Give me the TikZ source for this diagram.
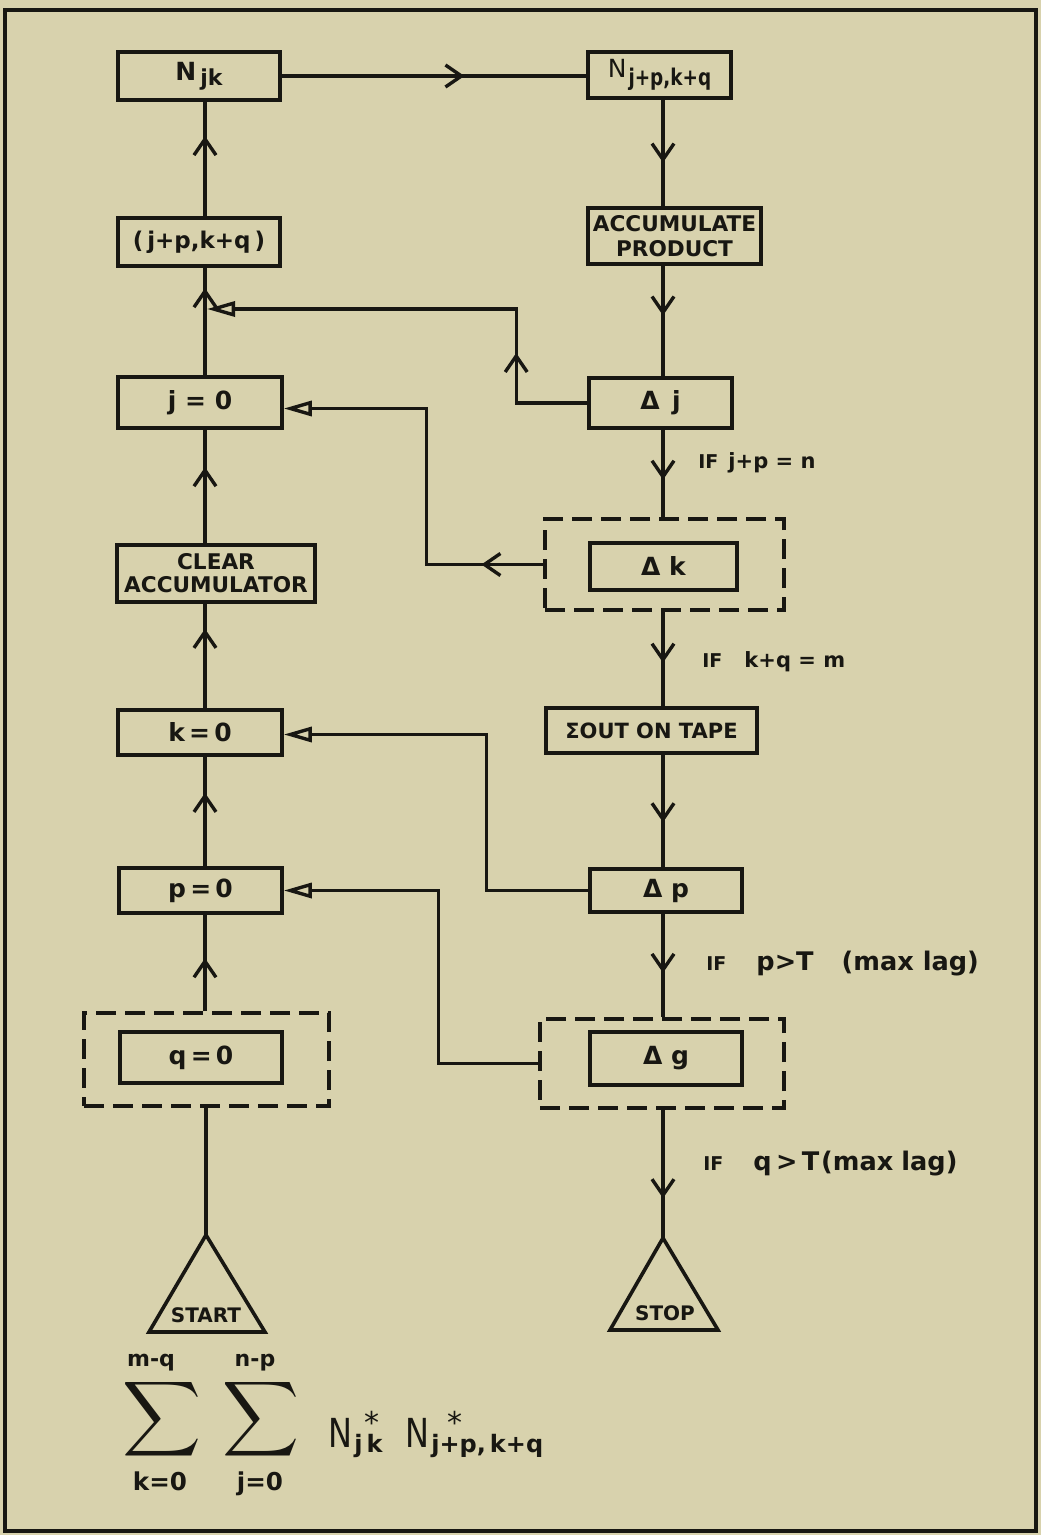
\documentclass[tikz,border=0pt]{standalone}
\usepackage{fontspec}
\usepackage{graphicx}
\setmainfont{DejaVu Sans}
\usetikzlibrary{arrows.meta,decorations.markings,calc}
\definecolor{bg}{RGB}{216,210,173}
\definecolor{ink}{RGB}{24,23,18}
\newcommand\FS[1]{\fontsize{#1}{#1}\selectfont}
\begin{document}
\begin{tikzpicture}[x=0.5pt,y=-0.5pt,color=ink,
  box/.style={draw=ink, line width=1.8pt, inner sep=0pt, text=ink},
  dbox/.style={draw=ink, line width=1.6pt, dash pattern=on 10pt off 4.5pt, inner sep=0pt},
  conn/.style={draw=ink, line width=1.7pt},
  midarr/.style={postaction={decorate}, decoration={markings, mark=at position #1 with {\arrow[line width=1.7pt]{Straight Barb[length=8pt,width=11pt]}}}},
  ret/.style={conn, -{Triangle[open,length=14pt,width=7.5pt]}},
  lbl/.style={inner sep=0pt, text=ink}
]
% background and frame
\fill[bg] (0,0) rectangle (1041,1535);
\draw[ink, line width=2.2pt] (5,10) rectangle (1036,1531);

\coordinate (L) at (205,0);
\coordinate (R) at (663,0);

% left column
\node[box, minimum width=81pt, minimum height=24pt] (Njk) at (199,76) {\bfseries\FS{12.5}N\kern2pt\raisebox{-2.5pt}{\FS{11}jk}\hspace{17pt}};
\node[box, minimum width=81pt, minimum height=24pt] (JP) at (199,242) {\bfseries\FS{11.5}(\,j+p,k+q\,)};
\node[box, minimum width=82pt, minimum height=25.5pt] (J0) at (200,402.5) {\bfseries\FS{12.5}j = 0};
\node[box, minimum width=99pt, minimum height=28.5pt, align=center, font=\bfseries\fontsize{10.8}{11.5}\selectfont] (CLR) at (216,573.5) {CLEAR\\ACCUMULATOR};
\node[box, minimum width=82pt, minimum height=22.5pt] (K0) at (200,732.5) {\bfseries\FS{12.5}k\,=\,0};
\node[box, minimum width=81.5pt, minimum height=22.5pt] (P0) at (200.5,890.5) {\bfseries\FS{12.5}p\,=\,0};
\node[dbox, minimum width=122.5pt, minimum height=46.5pt] (Q0o) at (206.5,1059.5) {};
\node[box, minimum width=81pt, minimum height=25.5pt] (Q0) at (201,1057.5) {\bfseries\FS{12.5}q\,=\,0};

% start triangle
\coordinate (SA) at (206,1235);
\draw[ink, line width=1.8pt, line join=miter] (SA) -- (149,1332) -- (265,1332) -- cycle;
\node[lbl, anchor=base] (st) at (206,1322) {\bfseries\FS{10}START};

% right column
\node[box, minimum width=71.5pt, minimum height=23pt] (NJ) at (659.5,75) {\FS{12.5}N\kern1pt\raisebox{-4pt}{\bfseries\FS{11.5}\scalebox{0.8}[1]{j+p,k+q}}};
\node[box, minimum width=86.5pt, minimum height=28pt, align=center, font=\bfseries\fontsize{10.8}{12.5}\selectfont] (ACC) at (674.5,236) {ACCUMULATE\\PRODUCT};
\node[box, minimum width=71.5pt, minimum height=25pt] (DJ) at (660.5,403) {\bfseries\FS{12.5}Δ\enspace j};
\node[dbox, minimum width=119.5pt, minimum height=45.5pt] (DKo) at (664.5,564.5) {};
\node[box, minimum width=73.5pt, minimum height=23.5pt] (DK) at (663.5,566.5) {\bfseries\FS{12.5}Δ k};
\node[box, minimum width=105.5pt, minimum height=22.5pt] (SO) at (651.5,730.5) {\bfseries\FS{10.5}ΣOUT ON TAPE};
\node[box, minimum width=76pt, minimum height=21.5pt] (DP) at (666,890.5) {\bfseries\FS{12.5}Δ p};
\node[dbox, minimum width=122pt, minimum height=44.5pt] (DGo) at (662,1063.5) {};
\node[box, minimum width=76pt, minimum height=26.5pt] (DG) at (666,1058.5) {\bfseries\FS{12.5}Δ g};

% stop triangle
\coordinate (TA) at (663,1238);
\draw[ink, line width=1.8pt, line join=miter] (TA) -- (610,1330) -- (718,1330) -- cycle;
\node[lbl, anchor=base] (sp) at (665,1320) {\bfseries\FS{10}STOP};

% condition labels
\node[lbl, anchor=base west] (lj) at (698,468) {\bfseries\FS{9.5}IF\hspace{5pt}\FS{10.5}j+p = n};
\node[lbl, anchor=base west] (lk) at (702,667) {\bfseries\FS{9.5}IF\hspace{11pt}\FS{10.5}k+q = m};
\node[lbl, anchor=base west] (lp) at (706,970) {\bfseries\FS{9.5}IF\hspace{15pt}\FS{12.8}p>T\hspace{14pt}(max lag)};
\node[lbl, anchor=base west] (lq) at (703,1170) {\bfseries\FS{9.5}IF\hspace{15pt}\FS{12.8}q\,>\,T\hspace{1pt}(max\hspace{4pt}lag)};

% left column connectors (upward)
\draw[conn] (SA) -- (Q0o.south -| SA);
\draw[conn, midarr=0.55] (Q0o.north -| L) -- (P0.south -| L);
\draw[conn, midarr=0.67] (P0.north -| L) -- (K0.south -| L);
\draw[conn, midarr=0.76] (K0.north -| L) -- (CLR.south -| L);
\draw[conn, midarr=0.67] (CLR.north -| L) -- (J0.south -| L);
\draw[conn, midarr=0.81] (J0.north -| L) -- (JP.south -| L);
\draw[conn, midarr=0.70] (JP.north -| L) -- (Njk.south -| L);
\coordinate (jn) at (207,309);

% top connector
\draw[conn, midarr=0.60] (Njk.east) -- (NJ.west |- Njk.east);

% right column connectors (downward)
\draw[conn, midarr=0.59] (NJ.south -| R) -- (ACC.north -| R);
\draw[conn, midarr=0.45] (ACC.south -| R) -- (DJ.north -| R);
\draw[conn, midarr=0.57] (DJ.south -| R) -- (DKo.north -| R);
\draw[conn, midarr=0.54] (DKo.south -| R) -- (SO.north -| R);
\draw[conn, midarr=0.60] (SO.south -| R) -- (DP.north -| R);
\draw[conn, midarr=0.57] (DP.south -| R) -- (DGo.north -| R);
\draw[conn, midarr=0.69] (DGo.south -| R) -- (TA);

% return loops
\draw[ret, midarr=60.5pt] (DJ.west) -- ++(-71,0) |- (jn);
\draw[ret, midarr=31pt] (DKo.west) -- ++(-117,0) |- ($(J0.east)+(0,6)$);
\draw[ret] (DP.west) -- ++(-102,0) |- ($(K0.east)+(0,2)$);
\draw[ret] (DGo.west) -- ++(-100,0) |- (P0.east);

% formula
\node[lbl] (S1) at (162.5,1419) {\resizebox*{39.5pt}{42pt}{$\displaystyle\sum$}};
\node[lbl] (S2) at (261.5,1419) {\resizebox*{38.5pt}{42pt}{$\displaystyle\sum$}};
\node[lbl, anchor=base] (u1) at (151,1366) {\bfseries\FS{11}m-q};
\node[lbl, anchor=base] (l1) at (160,1490) {\bfseries\FS{12.3}k=0};
\node[lbl, anchor=base] (u2) at (255,1366) {\bfseries\FS{11}n-p};
\node[lbl, anchor=base] (l2) at (260,1490) {\bfseries\FS{12.3}j=0};
\node[lbl, anchor=base west] (t1) at (328,1447) {\scalebox{0.8}[1]{\FS{20}N}\kern1pt\rlap{\hspace{5pt}\raisebox{7pt}{\FS{15}*}}\raisebox{-2.5pt}{\bfseries\FS{12}j\,k}};
\node[lbl, anchor=base west] (t2) at (405,1447) {\scalebox{0.8}[1]{\FS{20}N}\kern1pt\rlap{\hspace{8pt}\raisebox{7pt}{\FS{15}*}}\raisebox{-2.5pt}{\bfseries\FS{12}j+p,\,k+q}};
\end{tikzpicture}
\end{document}
